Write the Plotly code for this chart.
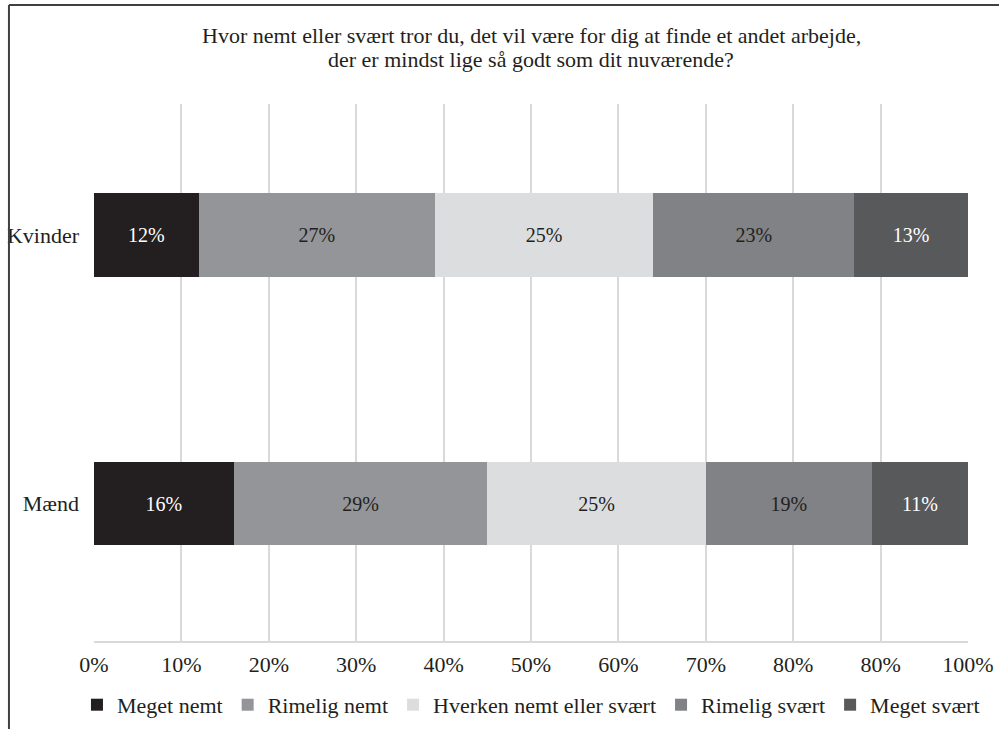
import plotly.graph_objects as go

# Survey data: share of answers per group (percent)
groups = ["Kvinder", "Mænd"]
answers = ["Meget nemt", "Rimelig nemt", "Hverken nemt eller svært", "Rimelig svært", "Meget svært"]
kvinder = [12, 27, 25, 23, 13]
maend = [16, 29, 25, 19, 11]
tick_values = [0, 10, 20, 30, 40, 50, 60, 70, 80, 90, 100]
tick_labels = ["0%", "10%", "20%", "30%", "40%", "50%", "60%", "70%", "80%", "80%", "100%"]
title_lines = [
    "Hvor nemt eller svært tror du, det vil være for dig at finde et andet arbejde,",
    "der er mindst lige så godt som dit nuværende?",
]

fills = ["#231f20", "#939598", "#dcdddf", "#808285", "#58595b"]
text_colors = ["#ffffff", "#231f20", "#231f20", "#231f20", "#ffffff"]
FONT = "Liberation Serif, DejaVu Serif, serif"
SIZE = 22
BAR_SIZE = 20

fig = go.Figure()
for i, name in enumerate(answers):
    vals = [kvinder[i], maend[i]]
    fig.add_trace(go.Bar(
        name=name,
        y=groups,
        x=vals,
        orientation="h",
        marker=dict(color=fills[i], line=dict(width=0)),
        text=[f"{v}%" for v in vals],
        textposition="inside",
        insidetextanchor="middle",
        textfont=dict(family=FONT, size=BAR_SIZE, color=text_colors[i]),
        constraintext="none",
        width=0.31,
        hoverinfo="skip",
    ))

fig.update_layout(
    barmode="stack",
    width=999,
    height=729,
    margin=dict(l=94, r=31, t=104, b=88, autoexpand=False),
    paper_bgcolor="white",
    plot_bgcolor="white",
    font=dict(family=FONT, size=SIZE, color="#231f20"),
    uniformtext=dict(minsize=BAR_SIZE, mode="show"),
    showlegend=True,
    legend=dict(
        orientation="h",
        xref="paper", yref="paper",
        x=-0.0195, xanchor="left",
        y=-0.119, yanchor="middle",
        bgcolor="rgba(0,0,0,0)",
        font=dict(family=FONT, size=SIZE, color="#231f20"),
        itemwidth=30,
        traceorder="normal",
    ),
    xaxis=dict(
        range=[0, 100],
        tickmode="array",
        tickvals=tick_values,
        ticktext=tick_labels,
        showgrid=True,
        gridcolor="#d9d9d9",
        gridwidth=2,
        zeroline=False,
        showline=True,
        linecolor="#d9d9d9",
        linewidth=2,
        ticks="",
        ticklabelstandoff=3,
        tickfont=dict(family=FONT, size=SIZE, color="#231f20"),
        fixedrange=True,
    ),
    yaxis=dict(
        categoryorder="array",
        categoryarray=["Mænd", "Kvinder"],
        range=[-0.512, 1.488],
        showgrid=False,
        zeroline=False,
        showline=False,
        ticks="",
        ticklabelstandoff=14,
        tickfont=dict(family=FONT, size=SIZE, color="#231f20"),
        fixedrange=True,
    ),
    annotations=[
        dict(
            text=line,
            xref="paper", yref="paper",
            x=0.5, y=yy, xanchor="center", yanchor="middle",
            showarrow=False,
            font=dict(family=FONT, size=SIZE, color="#231f20"),
        )
        for line, yy in zip(title_lines, [1.128, 1.083])
    ],
    shapes=[
        # frame: top edge and left edge
        dict(type="line", xref="paper", yref="paper",
             x0=-0.0973, x1=1.05, y0=1.1844, y1=1.1844,
             line=dict(color="#404040", width=2)),
        dict(type="line", xref="paper", yref="paper",
             x0=-0.0973, x1=-0.0973, y0=1.1844, y1=-0.17,
             line=dict(color="#404040", width=2)),
    ],
)

fig.write_html("out.html")
